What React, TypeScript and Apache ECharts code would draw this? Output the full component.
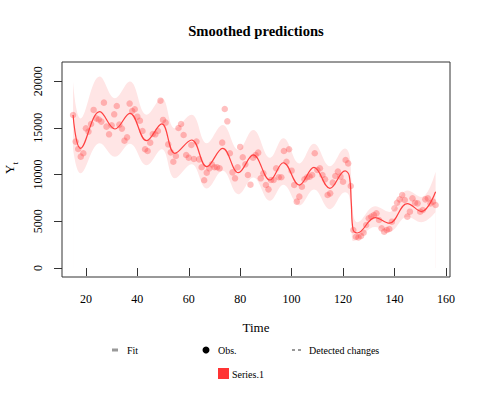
import React, { useEffect, useRef } from "react";
import * as echarts from "echarts";

const obsStart = 15;
const obsValues = [
  16380, 13530, 12740, 11920, 12280, 14950, 14600, 15420, 16920, 16020,
  15900, 15670, 17700, 15130, 14310, 15270, 16450, 17340, 15350, 14920,
  13630, 13990, 17600, 16810, 16990, 16200, 15770, 14670, 12710, 12530,
  13420, 14350, 14310, 14670, 17910, 15850, 15560, 13240, 12380, 11380,
  11990, 14990, 15420, 14240, 12100, 11810, 13170, 11670, 13530, 11630,
  10780, 9390, 10210, 10670, 11100, 10780, 10780, 10670, 13420, 17020,
  15700, 12280, 10240, 9600, 10780, 12960, 11850, 11100, 9960, 8920,
  11810, 12100, 12350, 9600, 10140, 8890, 8420, 9420, 9420, 10670,
  9710, 9710, 12530, 11380, 12710, 10420, 8890, 7100, 7640, 8710,
  9490, 9710, 9780, 9960, 12280, 10490, 10670, 9960, 9490, 7820,
  7990, 9140, 9850, 10320, 9780, 9240, 11560, 11200, 8780, 4070,
  3350, 3280, 3430, 3780, 4600, 5320, 5500, 5670, 5850, 5140,
  4250, 3890, 4070, 4180, 4960, 6390, 6990, 7350, 7820, 7280,
  5500, 6030, 7460, 6990, 6920, 6030, 6210, 7350, 7460, 6920,
  7100, 6750,
];

const fitTimes = [
  15, 17.9, 25.4, 31.3, 37.1, 43.6, 49.5, 54.6, 61.1, 67, 73.2, 79.3, 85.1,
  91.6, 96.8, 103, 108.7, 114.9, 120.8, 122.4, 123.2, 123.9, 125.5, 132.5,
  138, 145, 150.5, 156,
];
const fitValues = [
  16380, 12810, 16740, 14880, 16560, 13630, 15420, 12280, 13700, 10850, 12810,
  10200, 12100, 9420, 11270, 8880, 10780, 8530, 10390, 9900, 7000, 4100, 3750,
  5400, 4800, 6900, 6050, 8170,
];
const fitUpper = [
  19950, 16000, 20490, 18170, 19950, 16400, 18170, 14950, 16400, 13350, 15300,
  12640, 14770, 11800, 13880, 11200, 13300, 10900, 12800, 12200, 9600, 5800,
  4900, 6600, 6000, 8300, 7600, 10300,
];
const fitLower = [
  12800, 10140, 13350, 11900, 13300, 11000, 12700, 9600, 11100, 8500, 10400,
  7900, 9700, 7200, 8900, 6700, 8400, 6300, 8100, 7700, 5200, 2900, 3000, 4400,
  3900, 5500, 4900, 6000,
];

const xTicks = [20, 40, 60, 80, 100, 120, 140, 160];
const yTicks = [0, 5000, 10000, 15000, 20000];

const serif = "'Liberation Serif', 'Times New Roman', serif";

export default function App() {
  const ref = useRef<HTMLDivElement>(null);
  useEffect(() => {
    const chart = echarts.init(ref.current!, null, { renderer: "svg" });
    const obs = obsValues.map((v, i) => [obsStart + i, v]);
    const upper = fitTimes.map((t, i) => [t, fitUpper[i]]);
    const lower = fitTimes.map((t, i) => [t, fitLower[i]]);
    const fit = fitTimes.map((t, i) => [t, fitValues[i]]);
    const smooth = 0.4;
    chart.setOption({
      animation: false,
      backgroundColor: "#fff",
      grid: {
        left: 62,
        top: 62,
        right: 31,
        bottom: 124,
        show: true,
        borderColor: "#333",
        borderWidth: 1,
        backgroundColor: "transparent",
        z: 10,
      },
      xAxis: {
        type: "value",
        min: 10.7,
        max: 161.6,
        name: "Time",
        nameLocation: "middle",
        nameGap: 44,
        nameTextStyle: { fontFamily: serif, fontSize: 13, color: "#000" },
        axisLine: { show: false },
        splitLine: { show: false },
        axisTick: { show: true, customValues: xTicks, length: 8, lineStyle: { color: "#333" } },
        axisLabel: { customValues: xTicks, fontFamily: serif, fontSize: 12, color: "#000", margin: 16 },
      },
      yAxis: {
        type: "value",
        min: -960,
        max: 22050,
        axisLine: { show: false },
        splitLine: { show: false },
        axisTick: { show: true, customValues: yTicks, length: 8, lineStyle: { color: "#333" } },
        axisLabel: {
          customValues: yTicks,
          rotate: 90,
          fontFamily: serif,
          fontSize: 12,
          color: "#000",
          margin: 18,
          formatter: (v: number) => String(v),
        },
      },
      series: [
        {
          type: "line",
          data: upper,
          smooth,
          symbol: "none",
          lineStyle: { opacity: 0 },
          areaStyle: { color: "#ffe5e5", opacity: 1, origin: 0 },
          silent: true,
          z: 1,
        },
        {
          type: "line",
          data: lower,
          smooth,
          symbol: "none",
          lineStyle: { opacity: 0 },
          areaStyle: { color: "#ffffff", opacity: 1, origin: 0 },
          silent: true,
          z: 1,
        },
        {
          type: "scatter",
          data: obs,
          symbolSize: 6.5,
          itemStyle: { color: "rgba(255,60,60,0.4)" },
          z: 3,
        },
        {
          type: "line",
          data: fit,
          smooth,
          symbol: "none",
          lineStyle: { color: "#ff4040", width: 1.2 },
          z: 4,
        },
      ],
      graphic: [
        {
          type: "text",
          x: 256,
          y: 31,
          style: {
            text: "Smoothed predictions",
            font: `bold 14.6px ${serif}`,
            fill: "#000",
            align: "center",
            verticalAlign: "middle",
          },
        },
        {
          type: "text",
          x: 11,
          y: 168,
          rotation: Math.PI / 2,
          style: {
            text: "{a|Y}{b|t}",
            align: "center",
            verticalAlign: "middle",
            fill: "#000",
            rich: {
              a: { fontFamily: serif, fontSize: 13, lineHeight: 16, verticalAlign: "top" },
              b: { fontFamily: serif, fontSize: 9, lineHeight: 16, verticalAlign: "bottom", padding: [6, 0, 0, 0] },
            },
          },
        },
        { type: "rect", shape: { x: 112, y: 348.5, width: 6, height: 3 }, style: { fill: "#999" } },
        { type: "text", x: 127, y: 350, style: { text: "Fit", font: `10px ${serif}`, fill: "#000", verticalAlign: "middle" } },
        { type: "circle", shape: { cx: 206, cy: 350, r: 3.5 }, style: { fill: "#000" } },
        { type: "text", x: 218, y: 350, style: { text: "Obs.", font: `10px ${serif}`, fill: "#000", verticalAlign: "middle" } },
        { type: "line", shape: { x1: 292, y1: 350, x2: 295, y2: 350 }, style: { stroke: "#333", lineWidth: 1 } },
        { type: "line", shape: { x1: 298, y1: 350, x2: 301, y2: 350 }, style: { stroke: "#333", lineWidth: 1 } },
        { type: "text", x: 309, y: 350, style: { text: "Detected changes", font: `10px ${serif}`, fill: "#000", verticalAlign: "middle" } },
        { type: "rect", shape: { x: 218, y: 368, width: 11, height: 11 }, style: { fill: "#ff3333" } },
        { type: "text", x: 232, y: 374, style: { text: "Series.1", font: `10px ${serif}`, fill: "#000", verticalAlign: "middle" } },
      ],
    });
    return () => chart.dispose();
  }, []);
  return (
    <div
      ref={ref}
      style={{ position: "fixed", left: 0, top: 0, width: 481, height: 401 }}
    />
  );
}
